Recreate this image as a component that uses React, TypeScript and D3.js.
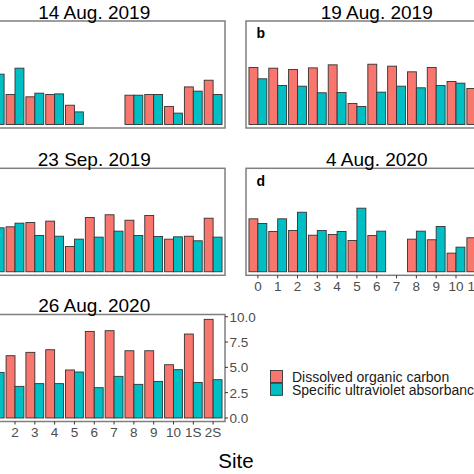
import React from "react";
import * as d3 from "d3";

const sites = ["0", "1", "2", "3", "4", "5", "6", "7", "8", "9", "10", "1S", "2S"];
const panelDates = ["14 Aug. 2019", "19 Aug. 2019", "23 Sep. 2019", "4 Aug. 2020", "26 Aug. 2020"];
const panelLetters = ["a", "b", "c", "d", "e"];

const docA = [3.5, 3.2, 2.96, 2.73, 2.96, 1.9, null, null, 2.89, 2.96, 1.78, 3.71, 4.37];
const suvaA = [4.2, 4.97, 5.56, 3.09, 3.02, 1.24, null, null, 2.89, 2.96, 1.12, 3.29, 2.96];
const docB = [5.63, 5.56, 5.43, 5.59, 5.89, 2.07, 5.95, 5.76, 5.2, 5.63, 4.24, 3.55, 4.5];
const suvaB = [4.51, 3.85, 3.78, 3.13, 3.16, 1.78, 3.19, 3.78, 3.62, 3.85, 4.08, 3.4, 3.5];
const docC = [4.6, 4.2, 4.44, 4.87, 5.0, 2.5, 5.36, 5.63, 5.09, 5.56, 3.22, 3.51, 5.29];
const suvaC = [4.5, 4.34, 4.8, 3.58, 3.51, 3.22, 3.42, 4.01, 3.58, 3.48, 3.45, 3.06, 3.42];
const docD = [5.23, 3.98, 4.08, 3.61, 3.68, 3.09, 3.58, null, 3.22, 3.16, 1.84, 3.36, 3.8];
const suvaD = [4.77, 5.23, 5.88, 4.08, 3.98, 6.28, 4.01, null, 4.01, 4.47, 2.43, 4.2, 4.0];
const docE = [5.8, 6.0, 6.15, 6.48, 6.74, 4.74, 8.55, 8.62, 6.64, 6.64, 5.26, 8.29, 9.74];
const suvaE = [4.3, 4.5, 3.12, 3.39, 3.39, 4.54, 2.99, 4.11, 3.32, 3.61, 4.77, 3.51, 3.78];

const yTicks = [0, 2.5, 5, 7.5, 10];
const legendLabels = ["Dissolved organic carbon", "Specific ultraviolet absorbance"];
const xTitle = "Site";

const docSeries = [docA, docB, docC, docD, docE];
const suvaSeries = [suvaA, suvaB, suvaC, suvaD, suvaE];

const RED = "#F8766D";
const TEAL = "#00BFC4";
const FONT = "'Liberation Sans', Arial, Helvetica, sans-serif";

const PANEL_W = 261.5;
const PANEL_H = 107;
const colX = [-36.5, 246];
const rowY = [21, 168.3, 314.5];
const layout = [
  { col: 0, row: 0, xLabels: false, rightAxis: false },
  { col: 1, row: 0, xLabels: false, rightAxis: false },
  { col: 0, row: 1, xLabels: false, rightAxis: false },
  { col: 1, row: 1, xLabels: true, rightAxis: false },
  { col: 0, row: 2, xLabels: true, rightAxis: true },
];

function Panel({ idx }: { idx: number }) {
  const L = layout[idx];
  const left = colX[L.col];
  const top = rowY[L.row];
  const x = d3.scalePoint<string>().domain(sites).range([left, left + PANEL_W]).padding(0.6);
  const y = d3.scaleLinear().domain([-0.35, 10.22]).range([top + PANEL_H, top]);
  const step = x.step();
  const bw = step * 0.45;
  const doc = docSeries[idx];
  const suva = suvaSeries[idx];
  return (
    <g>
      <rect x={left} y={top} width={PANEL_W} height={PANEL_H} fill="white" />
      {sites.map((s, i) => {
        const c = x(s) as number;
        const out = [];
        if (doc[i] != null) {
          out.push(
            <rect key={"d" + i} x={c - bw} y={y(doc[i] as number)} width={bw}
              height={y(0) - y(doc[i] as number)} fill={RED} stroke="#333" strokeWidth={0.9} />
          );
        }
        if (suva[i] != null) {
          out.push(
            <rect key={"s" + i} x={c} y={y(suva[i] as number)} width={bw}
              height={y(0) - y(suva[i] as number)} fill={TEAL} stroke="#333" strokeWidth={0.9} />
          );
        }
        return out;
      })}
      <rect x={left} y={top} width={PANEL_W} height={PANEL_H} fill="none" stroke="#7f7f7f" strokeWidth={1.5} />
      <text x={left + PANEL_W / 2} y={top - 2.5} textAnchor="middle" fontSize={19} fontFamily={FONT} fill="#000">
        {panelDates[idx]}
      </text>
      {left + 10.5 >= 0 && (
        <text x={left + 10.5} y={top + 17.3} fontSize={14} fontWeight="bold" fontFamily={FONT} fill="#000">
          {panelLetters[idx]}
        </text>
      )}
      {L.xLabels &&
        sites.map((s) => (
          <g key={"xl" + s}>
            <line x1={x(s)} x2={x(s)} y1={top + PANEL_H} y2={top + PANEL_H + 3} stroke="#333" strokeWidth={1} />
            <text x={x(s)} y={top + PANEL_H + 15.5} textAnchor="middle" fontSize={13.5} fontFamily={FONT} fill="#4d4d4d">
              {s}
            </text>
          </g>
        ))}
      {L.rightAxis &&
        yTicks.map((t) => (
          <g key={"yt" + t}>
            <line x1={left + PANEL_W} x2={left + PANEL_W + 3} y1={y(t)} y2={y(t)} stroke="#333" strokeWidth={1} />
            <text x={left + PANEL_W + 4.5} y={y(t)} dy="0.36em" fontSize={13.5} fontFamily={FONT} fill="#4d4d4d">
              {t.toFixed(1)}
            </text>
          </g>
        ))}
    </g>
  );
}

export default function App() {
  const legendColors = [RED, TEAL];
  return (
    <svg width={474} height={474} style={{ position: "absolute", left: 0, top: 0 }} xmlns="http://www.w3.org/2000/svg">
      <rect x={0} y={0} width={474} height={474} fill="white" />
      {panelDates.map((_, i) => (
        <Panel key={i} idx={i} />
      ))}
      <text x={236} y={468} textAnchor="middle" fontSize={20.5} fontFamily={FONT} fill="#000">
        {xTitle}
      </text>
      {legendLabels.map((lab, i) => (
        <g key={lab}>
          <rect x={270.5} y={370.5 + i * 12.8} width={12} height={12} fill={legendColors[i]} stroke="#333" strokeWidth={0.9} />
          <text x={292} y={381.5 + i * 13.5} fontSize={14} fontFamily={FONT} fill="#1a1a1a">
            {lab}
          </text>
        </g>
      ))}
    </svg>
  );
}
